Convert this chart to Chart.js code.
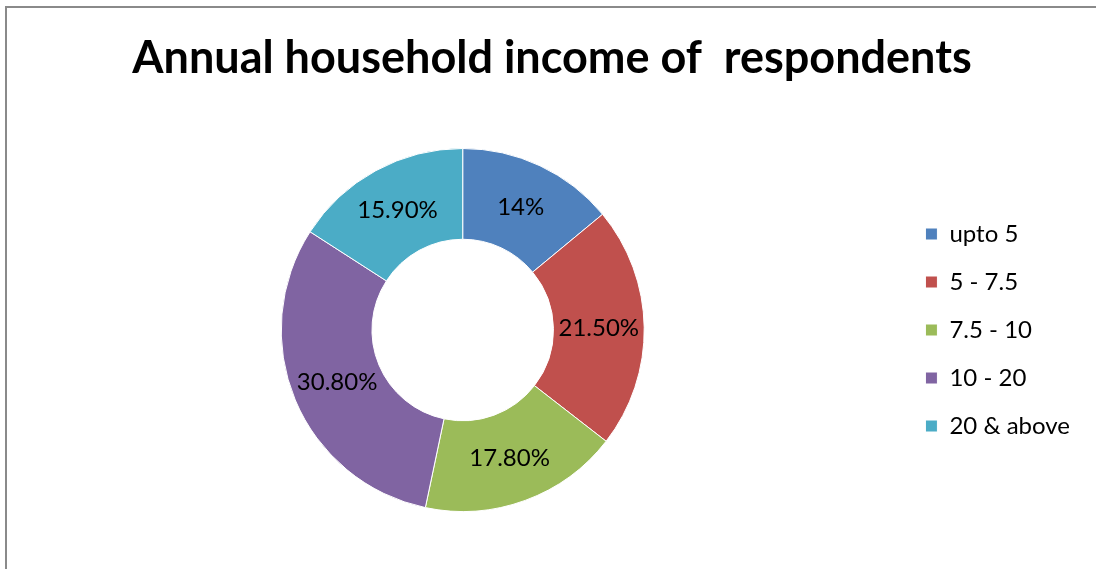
<!DOCTYPE html>
<html>
<head>
<meta charset="utf-8">
<script src="https://cdn.jsdelivr.net/npm/chart.js@4"></script>
<style>
    html, body { margin: 0; padding: 0; background: #fff; overflow: hidden; }
    #frame {
        position: absolute; left: 5px; top: 6px;
        width: 1200px; height: 700px;
        border-left: 2px solid #8a8a8a; border-top: 2px solid #8a8a8a;
    }
    #wrap { position: absolute; left: 0; top: 0; width: 1106px; height: 569px; }
</style>
</head>
<body>
<div id="frame"></div>
<div id="wrap"><canvas id="incomeChart"></canvas></div>
<script>
const incomeGroups = ['upto 5', '5 - 7.5', '7.5 - 10', '10 - 20', '20 & above'];
const sharePercent = [14, 21.5, 17.8, 30.8, 15.9];
const sliceColors = ['#4F81BD', '#C0504D', '#9BBB59', '#8064A2', '#4BACC6'];

function pctText(v) {
    return Number.isInteger(v) ? v + '%' : v.toFixed(2) + '%';
}

// writes each share in the middle of its ring segment
const sliceLabels = {
    id: 'sliceLabels',
    afterDatasetsDraw(chart) {
        const ctx = chart.ctx;
        const meta = chart.getDatasetMeta(0);
        ctx.save();
        ctx.font = '24px Lato';
        ctx.fillStyle = '#000';
        ctx.textAlign = 'center';
        ctx.textBaseline = 'middle';
        meta.data.forEach((arc, i) => {
            const p = arc.tooltipPosition();
            ctx.fillText(pctText(chart.data.datasets[0].data[i]), p.x, p.y);
        });
        ctx.restore();
    }
};

new Chart('incomeChart', {
    type: 'doughnut',
    data: {
        labels: incomeGroups,
        datasets: [{
            data: sharePercent,
            backgroundColor: sliceColors,
            borderColor: '#fff',
            borderWidth: 1
        }]
    },
    options: {
        responsive: true,
        maintainAspectRatio: false,
        animation: false,
        cutout: '50%',
        layout: { padding: { left: 24, right: 26, top: 0, bottom: 57 } },
        plugins: {
            title: {
                display: true,
                text: 'Annual household income of  respondents',
                color: '#000',
                font: { family: 'Lato', size: 45, weight: 'bold', lineHeight: 1.2 },
                padding: { top: 31, bottom: 63 }
            },
            legend: {
                position: 'right',
                fullSize: false,
                labels: {
                    boxWidth: 12,
                    boxHeight: 12,
                    padding: 24,
                    color: '#000',
                    font: { family: 'Lato', size: 24 }
                }
            },
            tooltip: { enabled: false }
        }
    },
    plugins: [sliceLabels]
});
</script>
</body>
</html>
